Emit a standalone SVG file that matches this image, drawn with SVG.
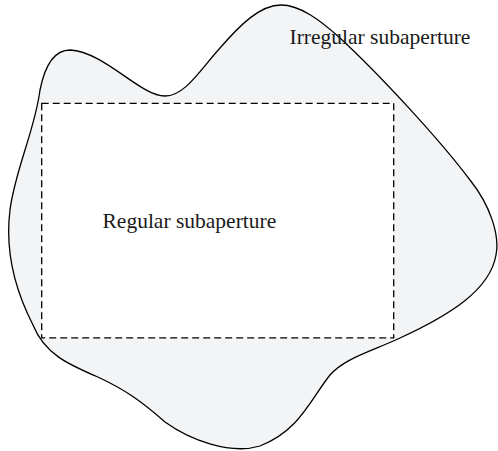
<svg xmlns="http://www.w3.org/2000/svg" width="498" height="451" viewBox="0 0 498 451">
<style>
.lbl{font-family:"Liberation Serif","Times New Roman",serif;font-size:21.5px;fill:#1a1a1a}
</style>
<rect width="498" height="451" fill="#ffffff"/>
<g id="irregular">
<path d="M70,50 C105,52 140,96 165,96 C185,96 200,70 220,48 C240,25 260,5 281,5 C300,5 320,20 340,38 C380,75 440,140 470,180 C490,205 500,235 496,255 C490,290 450,315 400,338 C370,352 345,358 330,375 C310,400 300,430 260,446 C230,455 190,440 165,422 C140,400 125,390 100,378 C70,365 45,355 33,325 C15,290 5,250 10,210 C15,170 35,130 40,90 C45,65 55,50 70,50 Z" fill="#f3f4f6" stroke="#000" stroke-width="1.3"/>
</g>
<g id="regular">
<rect x="41.7" y="103.3" width="352" height="234.5" fill="#ffffff" stroke="#000" stroke-width="1.3" stroke-dasharray="7 4"/>
</g>
<text class="lbl" x="289.5" y="43.5">Irregular subaperture</text>
<text class="lbl" x="102.5" y="227.5">Regular subaperture</text>
</svg>
